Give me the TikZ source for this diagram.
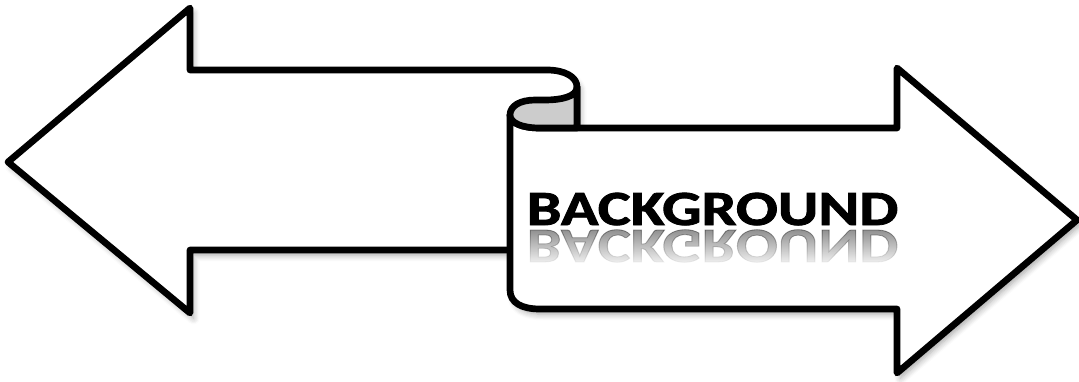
\documentclass[tikz,border=0pt]{standalone}
\usepackage{fontspec}
\usepackage{tikz}
\usetikzlibrary{shadows.blur,fadings}
\newfontfamily\bgfont{Carlito}[BoldFeatures={FakeBold=1.6}]
\definecolor{curlcol}{HTML}{CCCCCC}
\definecolor{linecol}{HTML}{000000}
\tikzfading[name=fade out down, top color=transparent!100, bottom color=transparent!0]

\begin{document}
\begin{tikzpicture}[x=0.01cm,y=-0.01cm,
  outline/.style={draw=linecol,line width=1.9pt,line join=round,fill=white,
    blur shadow={shadow xshift=1pt,shadow yshift=-1.5pt,shadow blur steps=6,shadow opacity=35}},
  curl/.style={draw=linecol,line width=1.9pt,line join=round,fill=curlcol},
  title/.style={inner sep=0pt,anchor=base west,font=\bgfont\bfseries\fontsize{14}{15}\selectfont}]
\useasboundingbox (0,0) rectangle (1079,381);
% left arrow, its end hidden under the scroll
\draw[outline] (560,250) -- (190,250) -- (190,313) -- (8,162) -- (190,8) -- (190,70) -- (547,70)
  .. controls (565,70) and (577,77) .. (577,87) -- (577,250) -- cycle;
% right arrow (scroll)
\draw[outline] (510,115) -- (510,290) .. controls (510,303) and (522,309) .. (540,309) -- (897,309)
  -- (897,373) -- (1077,220) -- (897,68) -- (897,128) -- (540,128)
  .. controls (522,128) and (510,123) .. (510,115) -- cycle;
% curl
\draw[curl] (577,128) -- (577,87) .. controls (577,97) and (560,100) .. (545,100) -- (535,100)
  .. controls (520,100) and (510,106) .. (510,115) .. controls (510,123) and (522,128) .. (540,128) -- cycle;
% label and reflection
\node[title] (bgtext) at (526,225) {\scalebox{1.26}[1]{BACKGROUND}};
\node[title,text opacity=0.45] (bgrefl) at (526,230) {\scalebox{1.26}[-1]{BACKGROUND}};
\fill[white,path fading=fade out down] (516,228) rectangle (912,268);
\end{tikzpicture}
\end{document}
